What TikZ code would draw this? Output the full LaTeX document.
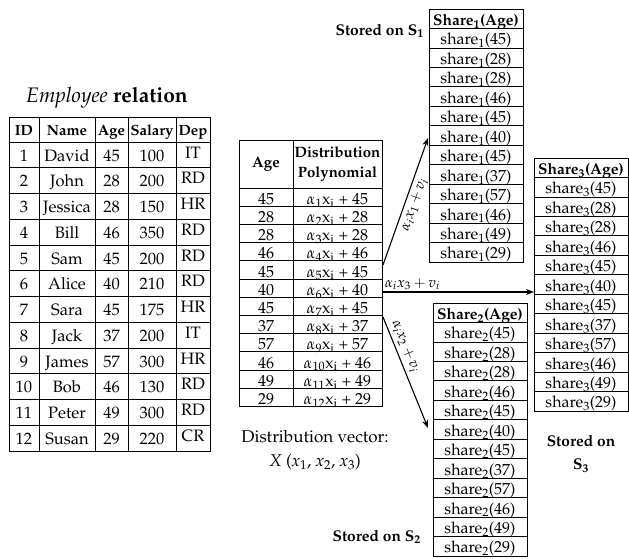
\documentclass[tikz,border=0pt]{standalone}
\usepackage[T1]{fontenc}
\usepackage{mathpazo}
\usetikzlibrary{arrows.meta}
\begin{document}
\begin{tikzpicture}[x=1pt,y=-1pt,
  tline/.style={line width=0.8pt},
  etext/.style={inner sep=0pt, anchor=base, font=\fontsize{16.5}{18}\selectfont},
  ehead/.style={inner sep=0pt, anchor=base, font=\fontsize{14.8}{16}\selectfont\bfseries},
  dtext/.style={inner sep=0pt, anchor=base, font=\fontsize{16}{16}\selectfont},
  dhead/.style={inner sep=0pt, align=center, font=\fontsize{15}{20}\selectfont\bfseries},
  stext/.style={inner sep=0pt, anchor=base, font=\fontsize{16}{16}\selectfont},
  shead/.style={inner sep=0pt, anchor=base, font=\fontsize{15.5}{16}\selectfont\bfseries},
  lab/.style={inner sep=0pt, font=\fontsize{15.5}{16}\selectfont\bfseries},
  plaintext/.style={inner sep=0pt, font=\fontsize{17}{18}\selectfont},
  arr/.style={line width=1.1pt, -{Stealth[length=8pt,width=6pt]}},
  alab/.style={inner sep=3pt, font=\fontsize{14.5}{15}\selectfont}
]
\useasboundingbox (0,0) rectangle (629,558);

% ---------------- Employee relation ----------------
\node[inner sep=0pt, font=\fontsize{21}{22}\selectfont] (etitle) at (107,98) {\textit{Employee} \textbf{relation}};
\draw[tline] (9,117) rectangle (210,451);
\foreach \x in {39,95,128,176} \draw[tline] (\x,117) -- (\x,451);
\foreach \k in {0,...,11} \draw[tline] (9,142+\k*25.75) -- (210,142+\k*25.75);
\foreach \t/\xc [count=\c] in {ID/24,Name/67,Age/111.5,Salary/152,Dep/193}
  \node[ehead] (eh\c) at (\xc,135) {\t};
\foreach \i/\n/\a/\s/\d in {1/David/45/100/IT,2/John/28/200/RD,3/Jessica/28/150/HR,
  4/Bill/46/350/RD,5/Sam/45/200/RD,6/Alice/40/210/RD,7/Sara/45/175/HR,8/Jack/37/200/IT,
  9/James/57/300/HR,10/Bob/46/130/RD,11/Peter/49/300/RD,12/Susan/29/220/CR}{
  \pgfmathsetmacro\yb{142+(\i-1)*25.75+19}
  \pgfmathsetmacro\yd{\yb-3}
  \node[etext] (eid\i) at (24,\yb) {\i};
  \node[etext] (ename\i) at (67,\yb) {\n};
  \node[etext] (eage\i) at (111.5,\yb) {\a};
  \node[etext] (esal\i) at (152,\yb) {\s};
  \node[etext] (edep\i) at (193,\yd) {\d};
}

% ---------------- Distribution table ----------------
\draw[tline] (239,140) rectangle (382,406.4);
\draw[tline] (293,140) -- (293,406.4);
\foreach \k in {0,...,11} \draw[tline] (239,188+\k*18.2) -- (382,188+\k*18.2);
\node[dhead] (dh1) at (266,164) {Age};
\node[dhead] (dh2) at (337.5,164) {Distribution\\Polynomial};
\foreach \a [count=\i] in {45,28,28,46,45,40,45,37,57,46,49,29}{
  \pgfmathsetmacro\yb{188+\i*18.2-2}
  \node[dtext] (da\i) at (266,\yb) {\a};
  \node[dtext] (dp\i) at (337.5,\yb) {$\alpha$\textsubscript{\i}x\textsubscript{i} + \a};
}
\node[plaintext] (dv1) at (315,437) {Distribution vector:};
\node[plaintext] (dv2) at (315,462) {\textit{X} (\textit{x}\textsubscript{1}, \textit{x}\textsubscript{2}, \textit{x}\textsubscript{3})};

% ---------------- Share tables ----------------
\foreach \s/\xl/\yt in {1/429/9,2/433/303,3/534/158}{
  \draw[tline] (\xl,\yt) rectangle (\xl+94,\yt+253);
  \foreach \k in {1,...,12} \draw[tline] (\xl,\yt+\k*19.46) -- (\xl+94,\yt+\k*19.46);
  \node[shead] (sh\s) at (\xl+47,\yt+19.46-3) {Share\textsubscript{\s}(Age)};
  \foreach \a [count=\k] in {45,28,28,46,45,40,45,37,57,46,49,29}
    \node[stext] (s\s-\k) at (\xl+47,\yt+\k*19.46+19.46-3) {share\textsubscript{\s}(\a)};
}
\node[lab, anchor=east] (st1) at (424,31) {Stored on S\textsubscript{1}};
\node[lab, anchor=east] (st2) at (421,537) {Stored on S\textsubscript{2}};
\node[lab, align=center, font=\fontsize{15.5}{23}\selectfont\bfseries] (st3) at (581,454) {Stored on\\S\textsubscript{3}};

% ---------------- Arrows ----------------
\coordinate (p1) at (383,265); \coordinate (q1) at (428,138);
\coordinate (p3) at (383,292); \coordinate (q3) at (534,292);
\coordinate (p2) at (383,317); \coordinate (q2) at (428,428);
\draw[arr] (p1) -- node[alab, sloped, below, midway] (l1) {$\alpha_i x_1 + v_i$} (q1);
\draw[arr] (p3) -- node[alab, above right, pos=0, inner sep=1.5pt] (l3) {$\alpha_i x_3 + v_i$} (q3);
\draw[arr] (p2) -- node[alab, sloped, above, pos=0.3] (l2) {$\alpha_i x_2 + v_i$} (q2);
\end{tikzpicture}
\end{document}
